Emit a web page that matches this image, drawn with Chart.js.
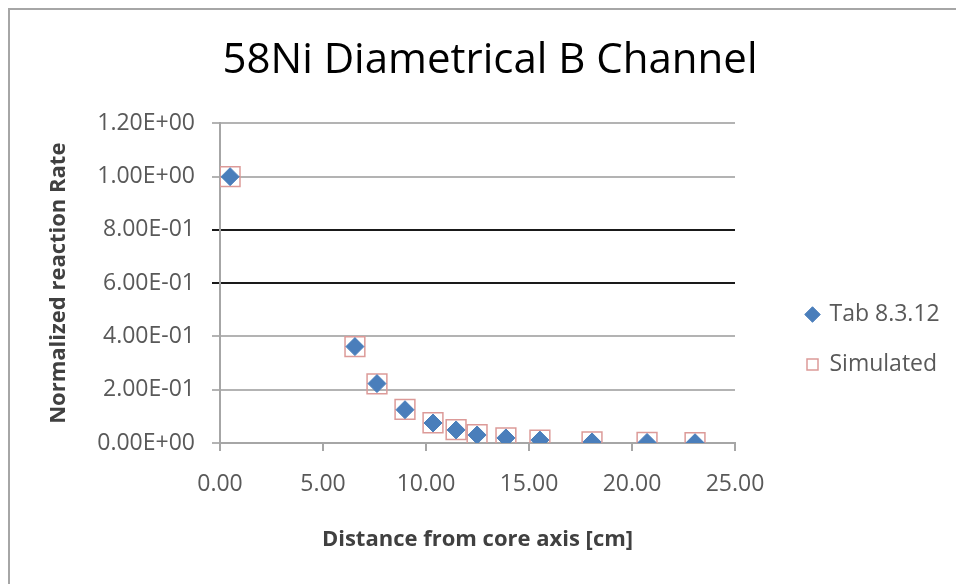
<!DOCTYPE html>
<html>
<head>
<meta charset="utf-8">
<script src="https://cdn.jsdelivr.net/npm/chart.js@4/dist/chart.umd.min.js"></script>
<style>
  html, body { margin: 0; padding: 0; background: #fff; }
  #wrap { position: relative; width: 956px; height: 584px; }
  #frame {
    position: absolute; left: 8px; top: 8px; right: 0; bottom: 0;
    border-top: 2px solid #a6a6a6; border-left: 2px solid #a6a6a6;
    pointer-events: none;
  }
</style>
</head>
<body>
<div id="wrap">
  <canvas id="chart" width="956" height="584"></canvas>
  <div id="frame"></div>
</div>
<script>
// values
const distances = [0.49, 6.55, 7.62, 8.98, 10.34, 11.46, 12.48, 13.88, 15.53, 18.06, 20.73, 23.06];
const tabRates = [1.0, 0.362, 0.223, 0.125, 0.075, 0.049, 0.030, 0.019, 0.011, 0.004, 0.002, 0.001];
const simRates = [1.0, 0.362, 0.222, 0.126, 0.076, 0.050, 0.031, 0.019, 0.011, 0.004, 0.002, 0.001];
const xTickLabels = ['0.00', '5.00', '10.00', '15.00', '20.00', '25.00'];
const yTickLabels = ['0.00E+00', '2.00E-01', '4.00E-01', '6.00E-01', '8.00E-01', '1.00E+00', '1.20E+00'];

Chart.defaults.font.family = "'Open Sans', sans-serif";

const toPoints = (xs, ys) => xs.map((x, i) => ({ x: x, y: ys[i] }));

// legend sits off to the right of the plot, like the Excel one
const legendPlace = {
    id: 'legendPlace',
    beforeLayout(chart) {
        const lg = chart.legend;
        if (!lg || lg._wrapped) return;
        const fit = lg.fit.bind(lg);
        lg.fit = function () { fit(); this.width = 221; };
        lg._wrapped = true;
    },
    afterLayout(chart) {
        const lg = chart.legend;
        const h = lg.bottom - lg.top;
        lg.left = 780; lg.right = 956;
        lg.top = 276; lg.bottom = 276 + h;
    }
};

const isDark = v => Math.abs(v - 0.6) < 1e-6 || Math.abs(v - 0.8) < 1e-6;

new Chart(document.getElementById('chart'), {
    type: 'scatter',
    data: {
        datasets: [
            {
                label: 'Tab 8.3.12',
                data: toPoints(distances, tabRates),
                pointStyle: 'rectRot',
                pointRadius: 9,
                backgroundColor: '#4a7ebb',
                borderColor: '#4a7ebb',
                borderWidth: 1
            },
            {
                label: 'Simulated',
                data: toPoints(distances, simRates),
                pointStyle: 'rect',
                pointRadius: 14,
                backgroundColor: 'rgba(0,0,0,0)',
                borderColor: '#dc9a98',
                borderWidth: 1.5
            }
        ]
    },
    options: {
        responsive: false,
        animation: false,
        layout: { padding: { left: 24, right: 0, top: 0, bottom: 0 } },
        plugins: {
            title: {
                display: true,
                text: '58Ni Diametrical B Channel',
                color: '#000',
                font: { size: 42, weight: 'normal' },
                padding: { top: 36, bottom: 37 }
            },
            legend: {
                position: 'right',
                align: 'start',
                fullSize: false,
                labels: {
                    usePointStyle: true,
                    boxWidth: 11,
                    boxHeight: 11,
                    padding: 27,
                    color: '#595959',
                    font: { size: 23 }
                }
            },
            tooltip: { enabled: false }
        },
        scales: {
            x: {
                type: 'linear',
                min: 0,
                max: 25,
                afterFit: s => { s.height = 141; },
                ticks: {
                    stepSize: 5,
                    color: '#595959',
                    font: { size: 23 },
                    padding: 20,
                    callback: (v, i) => xTickLabels[i]
                },
                grid: { drawOnChartArea: false, drawTicks: true, tickLength: 8, color: '#a6a6a6', lineWidth: 2 },
                border: { display: true, color: '#a6a6a6', width: 2 },
                title: {
                    display: true,
                    text: 'Distance from core axis [cm]',
                    color: '#404040',
                    font: { size: 22, weight: 'bold' },
                    padding: { top: 0, bottom: 31 }
                }
            },
            y: {
                min: 0,
                max: 1.2,
                afterFit: s => { s.width = 196; },
                ticks: {
                    stepSize: 0.2,
                    color: '#595959',
                    font: { size: 23 },
                    padding: 17,
                    callback: (v, i) => yTickLabels[i]
                },
                grid: {
                    drawTicks: true,
                    tickLength: 8,
                    lineWidth: 2,
                    color: c => (c.tick && isDark(c.tick.value)) ? '#1a1a1a' : '#b3b3b3'
                },
                border: { display: true, color: '#a6a6a6', width: 2 },
                title: {
                    display: true,
                    text: 'Normalized reaction Rate',
                    color: '#404040',
                    font: { size: 22, weight: 'bold' },
                    padding: { top: 22, bottom: 0 }
                }
            }
        }
    },
    plugins: [legendPlace]
});
</script>
</body>
</html>
